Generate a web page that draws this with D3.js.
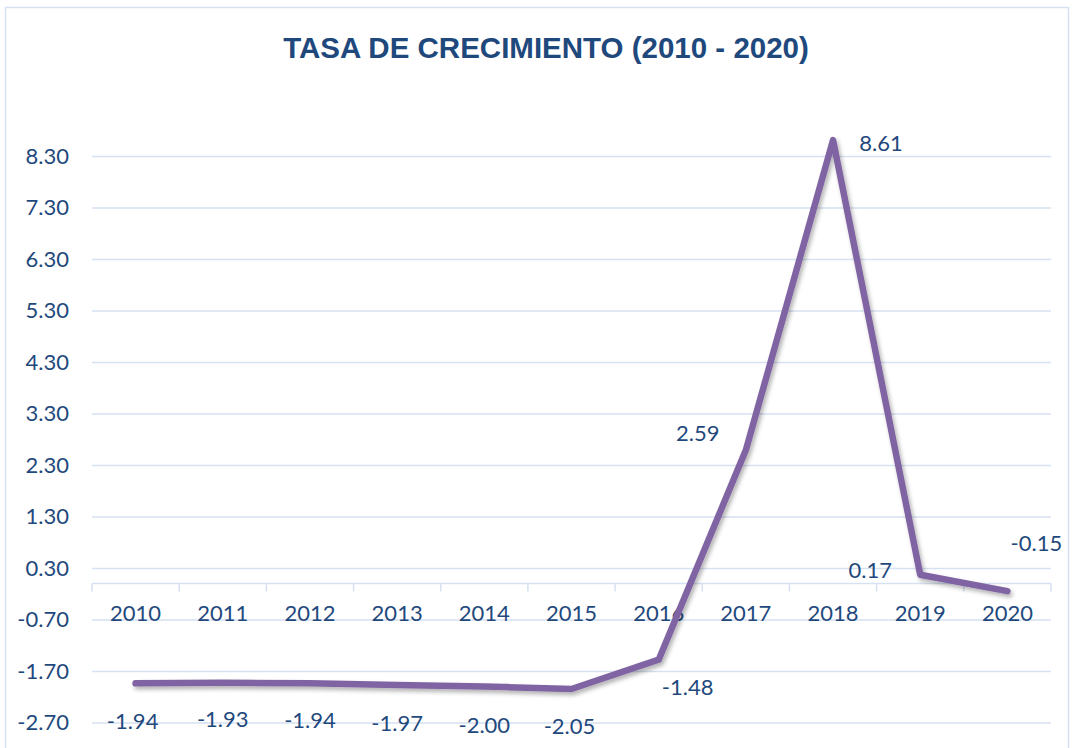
<!DOCTYPE html>
<html>
<head>
<meta charset="utf-8">
<script src="https://cdn.jsdelivr.net/npm/d3@7"></script>
<style>
  html, body { margin: 0; padding: 0; background: #fff; }
  svg { display: block; }
</style>
</head>
<body>
<div id="app"></div>
<script>
const years = ["2010", "2011", "2012", "2013", "2014", "2015", "2016", "2017", "2018", "2019", "2020"];
const growth = [-1.94, -1.93, -1.94, -1.97, -2.00, -2.05, -1.48, 2.59, 8.61, 0.17, -0.15];
const yTicks = [-2.70, -1.70, -0.70, 0.30, 1.30, 2.30, 3.30, 4.30, 5.30, 6.30, 7.30, 8.30];
const title = "TASA DE CRECIMIENTO (2010 - 2020)";

// where each data label sits relative to its point (Excel put them oddly)
const labelOffset = [[-3, 38], [0, 36], [0, 37], [0, 38], [0, 39], [-2, 37], [29, 28], [-48, -17], [48, 3], [-50, -4], [29, -48]];

const width = 1090, height = 748;
const textColor = "#1F497D";
const gridColor = "#D6E1F2";
const fmt = v => v.toFixed(2);

const svg = d3.select("#app").append("svg")
    .attr("width", width)
    .attr("height", height);

svg.append("defs").append("filter")
    .attr("id", "shadow")
    .attr("x", "-10%").attr("y", "-10%")
    .attr("width", "120%").attr("height", "130%")
    .append("feDropShadow")
    .attr("dx", 2).attr("dy", 3)
    .attr("stdDeviation", 2)
    .attr("flood-color", "#000")
    .attr("flood-opacity", 0.3);

// chart border
svg.append("rect")
    .attr("x", 5.5).attr("y", 7.5)
    .attr("width", 1063).attr("height", 760)
    .attr("fill", "none")
    .attr("stroke", gridColor)
    .attr("stroke-width", 1.5);

svg.append("text")
    .attr("x", 546).attr("y", 58)
    .attr("text-anchor", "middle")
    .attr("font-family", "Liberation Sans, Arial, sans-serif")
    .attr("font-weight", "bold")
    .attr("font-size", 29.5)
    .attr("fill", textColor)
    .text(title);

const x = d3.scaleBand().domain(years).range([92, 1051]);
const y = d3.scaleLinear().domain([-2.70, 8.30]).range([722.5, 156]);

// gridlines + y labels
const yAxis = d3.axisLeft(y)
    .tickValues(yTicks)
    .tickSize(-(1051 - 92))
    .tickFormat(fmt);

const gy = svg.append("g")
    .attr("transform", "translate(92,0)")
    .call(yAxis);
gy.select(".domain").remove();
gy.selectAll(".tick line").attr("stroke", gridColor).attr("stroke-width", 1.5);
gy.selectAll(".tick text")
    .attr("fill", textColor)
    .attr("font-family", "Lato, sans-serif")
    .attr("font-size", 22)
    .attr("x", -23);

// category axis at zero
const y0 = y(0);
svg.append("line")
    .attr("x1", 92).attr("x2", 1051)
    .attr("y1", y0).attr("y2", y0)
    .attr("stroke", gridColor).attr("stroke-width", 1.5);

svg.append("g").selectAll("line")
    .data(years.concat(["end"]))
    .join("line")
    .attr("x1", (d, i) => 92 + i * x.step())
    .attr("x2", (d, i) => 92 + i * x.step())
    .attr("y1", y0).attr("y2", y0 + 8)
    .attr("stroke", gridColor).attr("stroke-width", 1.5);

svg.append("g").selectAll("text")
    .data(years)
    .join("text")
    .attr("x", d => x(d) + x.bandwidth() / 2)
    .attr("y", y0 + 38)
    .attr("text-anchor", "middle")
    .attr("font-family", "Lato, sans-serif")
    .attr("font-size", 22)
    .attr("fill", textColor)
    .text(d => d);

// series
const line = d3.line()
    .x((d, i) => x(years[i]) + x.bandwidth() / 2)
    .y(d => y(d));

svg.append("path")
    .datum(growth)
    .attr("d", line)
    .attr("fill", "none")
    .attr("stroke", "#8064A2")
    .attr("stroke-width", 6.5)
    .attr("stroke-linejoin", "round")
    .attr("stroke-linecap", "round")
    .attr("filter", "url(#shadow)");

svg.append("g").selectAll("text")
    .data(growth)
    .join("text")
    .attr("x", (d, i) => x(years[i]) + x.bandwidth() / 2 + labelOffset[i][0])
    .attr("y", (d, i) => y(d) + labelOffset[i][1])
    .attr("dy", "0.35em")
    .attr("text-anchor", "middle")
    .attr("font-family", "Lato, sans-serif")
    .attr("font-size", 22)
    .attr("fill", textColor)
    .text(d => fmt(d));
</script>
</body>
</html>
